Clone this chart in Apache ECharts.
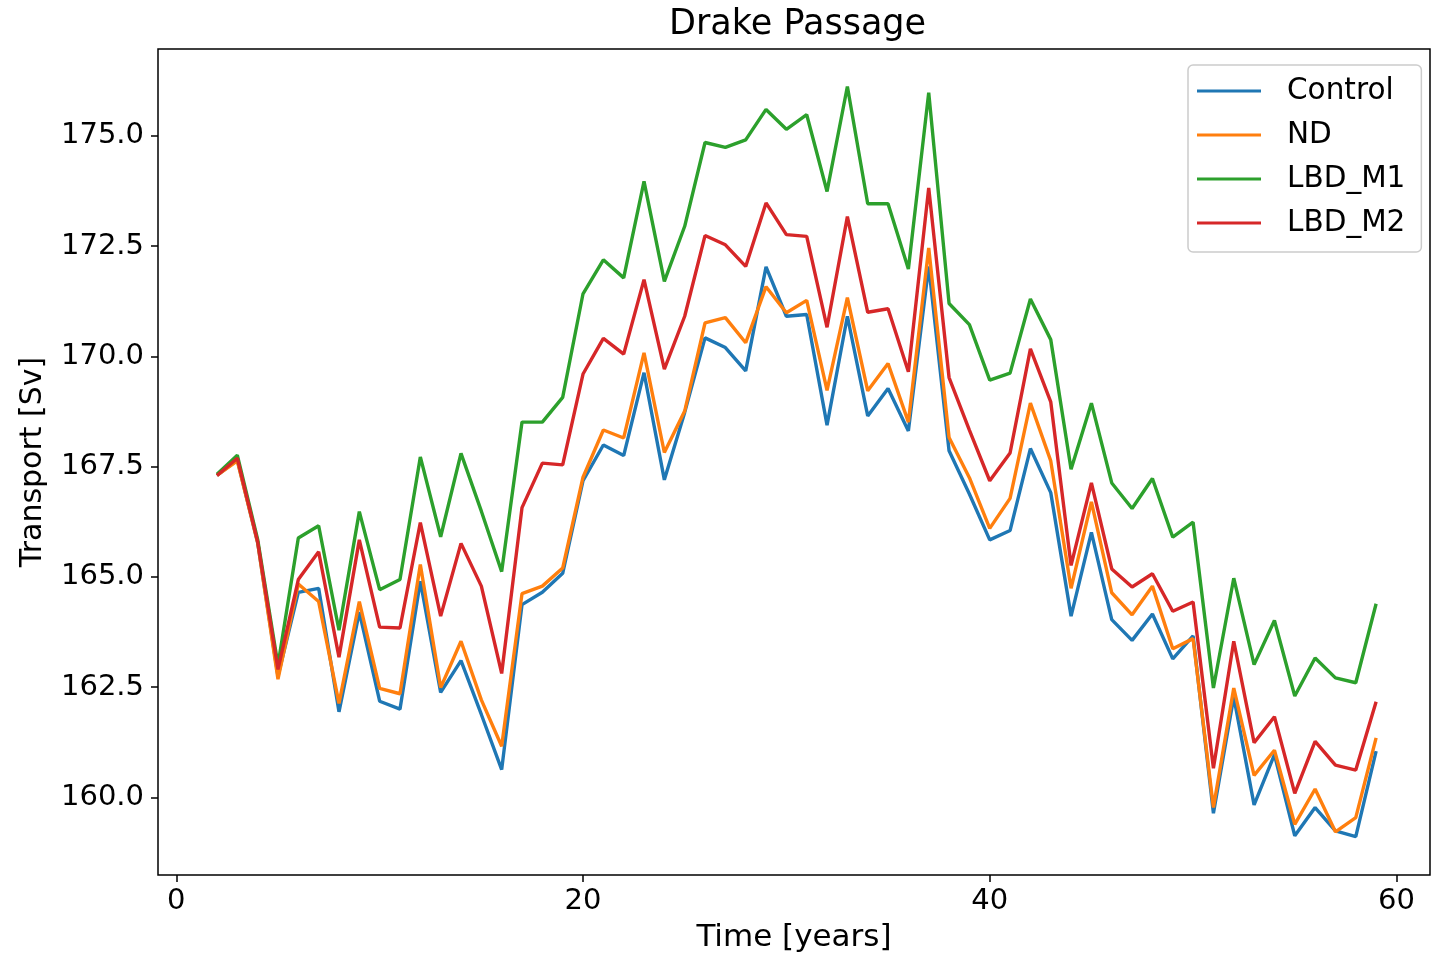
<!DOCTYPE html>
<html>
<head>
<meta charset="utf-8">
<title>Drake Passage</title>
<script src="https://cdn.jsdelivr.net/npm/echarts@6/dist/echarts.min.js"></script>
<style>
  html, body { margin: 0; padding: 0; background: #ffffff; }
  #chart { width: 1432px; height: 958px; }
</style>
</head>
<body>
<div id="chart"></div>
<script>
// Model years
const years = [
  2, 3, 4, 5, 6, 7, 8, 9, 10, 11,
  12, 13, 14, 15, 16, 17, 18, 19, 20, 21,
  22, 23, 24, 25, 26, 27, 28, 29, 30, 31,
  32, 33, 34, 35, 36, 37, 38, 39, 40, 41,
  42, 43, 44, 45, 46, 47, 48, 49, 50, 51,
  52, 53, 54, 55, 56, 57, 58, 59
];

// Transport through Drake Passage [Sv] per run
const control = [
  167.30, 167.65, 165.78, 162.75, 164.65, 164.74, 161.94, 164.20, 162.18, 162.00,
  164.90, 162.38, 163.10, 161.88, 160.63, 164.37, 164.65, 165.08, 167.18, 167.99,
  167.75, 169.63, 167.20, 168.73, 170.42, 170.20, 169.67, 172.03, 170.91, 170.95,
  168.44, 170.91, 168.65, 169.27, 168.31, 172.04, 167.86, 166.88, 165.84, 166.05,
  167.91, 166.91, 164.11, 166.01, 164.03, 163.56, 164.16, 163.14, 163.66, 159.64,
  162.28, 159.83, 160.97, 159.13, 159.77, 159.24, 159.11, 161.05
];
const nd = [
  167.30, 167.63, 165.78, 162.68, 164.84, 164.44, 162.13, 164.44, 162.47, 162.35,
  165.28, 162.49, 163.54, 162.21, 161.16, 164.62, 164.79, 165.20, 167.26, 168.33,
  168.15, 170.08, 167.82, 168.76, 170.76, 170.88, 170.31, 171.58, 170.99, 171.27,
  169.23, 171.33, 169.22, 169.84, 168.51, 172.46, 168.16, 167.25, 166.10, 166.78,
  168.94, 167.63, 164.74, 166.70, 164.64, 164.14, 164.79, 163.37, 163.60, 159.77,
  162.48, 160.50, 161.07, 159.39, 160.19, 159.22, 159.54, 161.35
];
const lbdM1 = [
  167.33, 167.76, 165.85, 163.00, 165.88, 166.16, 163.79, 166.48, 164.71, 164.94,
  167.72, 165.91, 167.80, 166.49, 165.12, 168.51, 168.51, 169.07, 171.42, 172.19,
  171.78, 173.97, 171.70, 172.95, 174.85, 174.74, 174.91, 175.60, 175.15, 175.48,
  173.74, 176.12, 173.46, 173.46, 171.98, 175.98, 171.20, 170.72, 169.46, 169.62,
  171.30, 170.38, 167.44, 168.94, 167.13, 166.55, 167.23, 165.90, 166.24, 162.48,
  164.97, 163.01, 164.01, 162.30, 163.16, 162.71, 162.60, 164.39
];
const lbdM2 = [
  167.30, 167.69, 165.80, 162.90, 164.94, 165.57, 163.18, 165.84, 163.86, 163.84,
  166.23, 164.11, 165.76, 164.79, 162.81, 166.57, 167.58, 167.54, 169.60, 170.41,
  170.05, 171.74, 169.71, 170.91, 172.74, 172.53, 172.04, 173.48, 172.76, 172.72,
  170.66, 173.17, 171.00, 171.08, 169.65, 173.82, 169.52, 168.33, 167.18, 167.81,
  170.17, 168.97, 165.26, 167.13, 165.18, 164.77, 165.07, 164.22, 164.43, 160.66,
  163.54, 161.24, 161.83, 160.09, 161.27, 160.73, 160.62, 162.17
];

const seriesNames = ['Control', 'ND', 'LBD_M1', 'LBD_M2'];
const seriesValues = [control, nd, lbdM1, lbdM2];
const seriesColors = ['#1f77b4', '#ff7f0e', '#2ca02c', '#d62728'];

const xTicks = [0, 20, 40, 60];
const yTicks = [160, 162.5, 165, 167.5, 170, 172.5, 175];

const FONT = 'DejaVu Sans';

const chart = echarts.init(document.getElementById('chart'), null, { renderer: 'canvas' });

const series = seriesNames.map(function (name, i) {
  return {
    name: name,
    type: 'line',
    data: years.map(function (y, k) { return [y, seriesValues[i][k]]; }),
    symbol: 'none',
    showSymbol: false,
    animation: false,
    lineStyle: { color: seriesColors[i], width: 3.4 },
    itemStyle: { color: seriesColors[i] },
    z: 2 + i
  };
});

chart.setOption({
  backgroundColor: '#ffffff',
  animation: false,
  title: {
    text: 'Drake Passage',
    left: 669,
    top: 6,
    padding: 0,
    textStyle: { fontFamily: FONT, fontSize: 35, fontWeight: 'normal', color: '#000', lineHeight: 38 }
  },
  legend: {
    data: seriesNames,
    orient: 'vertical',
    left: 1188,
    top: 65,
    padding: [11, 16, 14, 9],
    icon: 'rect',
    itemWidth: 64,
    itemHeight: 3,
    itemGap: 14,
    backgroundColor: 'rgba(255,255,255,0.85)',
    borderColor: '#cccccc',
    borderWidth: 1.5,
    borderRadius: 5,
    textStyle: { fontFamily: FONT, fontSize: 29.5, color: '#000', lineHeight: 30, padding: [0, 0, 0, 21] }
  },
  grid: {
    left: 158,
    right: 2,
    top: 49,
    bottom: 81,
    show: true,
    borderColor: '#000',
    borderWidth: 1.5,
    backgroundColor: 'transparent',
    containLabel: false
  },
  xAxis: {
    type: 'value',
    min: -0.9,
    max: 61.65,
    name: 'Time [years]',
    nameLocation: 'middle',
    nameGap: 47,
    nameTextStyle: { fontFamily: FONT, fontSize: 31, color: '#000' },
    axisLine: { show: false, onZero: false },
    splitLine: { show: false },
    axisTick: { show: true, length: 7, lineStyle: { color: '#000', width: 1.5 }, customValues: xTicks },
    axisLabel: {
      fontFamily: FONT, fontSize: 29, color: '#000', margin: 12,
      customValues: xTicks,
      formatter: function (v) { return String(Math.round(v)); }
    }
  },
  yAxis: {
    type: 'value',
    min: 158.24,
    max: 176.97,
    name: 'Transport [Sv]',
    nameLocation: 'middle',
    nameGap: 110,
    nameRotate: 90,
    nameTextStyle: { fontFamily: FONT, fontSize: 30, color: '#000' },
    axisLine: { show: false, onZero: false },
    splitLine: { show: false },
    axisTick: { show: true, length: 7, lineStyle: { color: '#000', width: 1.5 }, customValues: yTicks },
    axisLabel: {
      fontFamily: FONT, fontSize: 29, color: '#000', margin: 14,
      customValues: yTicks,
      formatter: function (v) { return v.toFixed(1); }
    }
  },
  series: series
});
</script>
</body>
</html>
